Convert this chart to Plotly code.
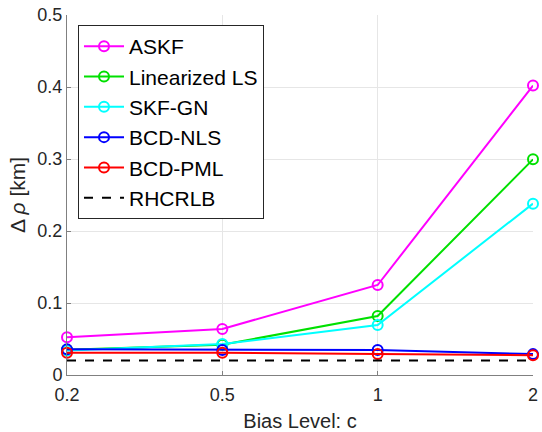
import plotly.graph_objects as go

x_labels = ["0.2", "0.5", "1", "2"]
askf = [0.0525, 0.064, 0.125, 0.402]
lin_ls = [0.035, 0.042, 0.082, 0.2995]
skf_gn = [0.034, 0.043, 0.0695, 0.238]
bcd_nls = [0.0356, 0.0347, 0.0347, 0.029]
bcd_pml = [0.031, 0.031, 0.029, 0.0275]
rhcrlb = [0.02, 0.02, 0.02, 0.02]

series = [
    ("ASKF", askf, "#ff00ff", "solid", True),
    ("Linearized LS", lin_ls, "#00e000", "solid", True),
    ("SKF-GN", skf_gn, "#00ffff", "solid", True),
    ("BCD-NLS", bcd_nls, "#0000ff", "solid", True),
    ("BCD-PML", bcd_pml, "#ff0000", "solid", True),
    ("RHCRLB", rhcrlb, "#000000", "dash", False),
]

fig = go.Figure()
for name, vals, color, dash, marker in series:
    fig.add_trace(go.Scatter(
        x=x_labels, y=vals, name=name,
        mode="lines+markers" if marker else "lines",
        line=dict(color=color, width=2, dash=dash),
        marker=dict(symbol="circle-open", size=10, color=color, line=dict(width=2, color=color)),
        cliponaxis=False,
    ))

font_family = "Liberation Sans, Arial, sans-serif"
fig.update_layout(
    width=542, height=432,
    margin=dict(l=67, r=9, t=15, b=57),
    paper_bgcolor="white", plot_bgcolor="white",
    font=dict(family=font_family, color="#262626", size=18),
    showlegend=True,
    legend=dict(
        x=0.0236, y=0.972, xanchor="left", yanchor="top",
        bgcolor="white", bordercolor="#262626", borderwidth=1,
        font=dict(size=21, color="#000000"),
        tracegroupgap=0, itemwidth=40,
    ),
    xaxis=dict(
        type="category", range=[0, 3], automargin=False,
        showgrid=True, gridcolor="#e6e6e6", gridwidth=1,
        showline=True, linecolor="#808080", linewidth=1,
        ticks="inside", ticklen=4, tickcolor="#808080",
        tickfont=dict(size=18), ticklabelstandoff=3,
        title=dict(text="Bias Level: c", font=dict(size=20), standoff=10),
        zeroline=False,
    ),
    yaxis=dict(
        range=[0, 0.5], dtick=0.1, tickformat=".1~f", automargin=False,
        showgrid=True, gridcolor="#e6e6e6", gridwidth=1,
        showline=True, linecolor="#808080", linewidth=1,
        ticks="inside", ticklen=4, tickcolor="#808080",
        tickfont=dict(size=18),
        title=dict(text="Δ <i>ρ</i> [km]", font=dict(size=21), standoff=6),
        zeroline=False,
    ),
)

fig.write_html("out.html")
